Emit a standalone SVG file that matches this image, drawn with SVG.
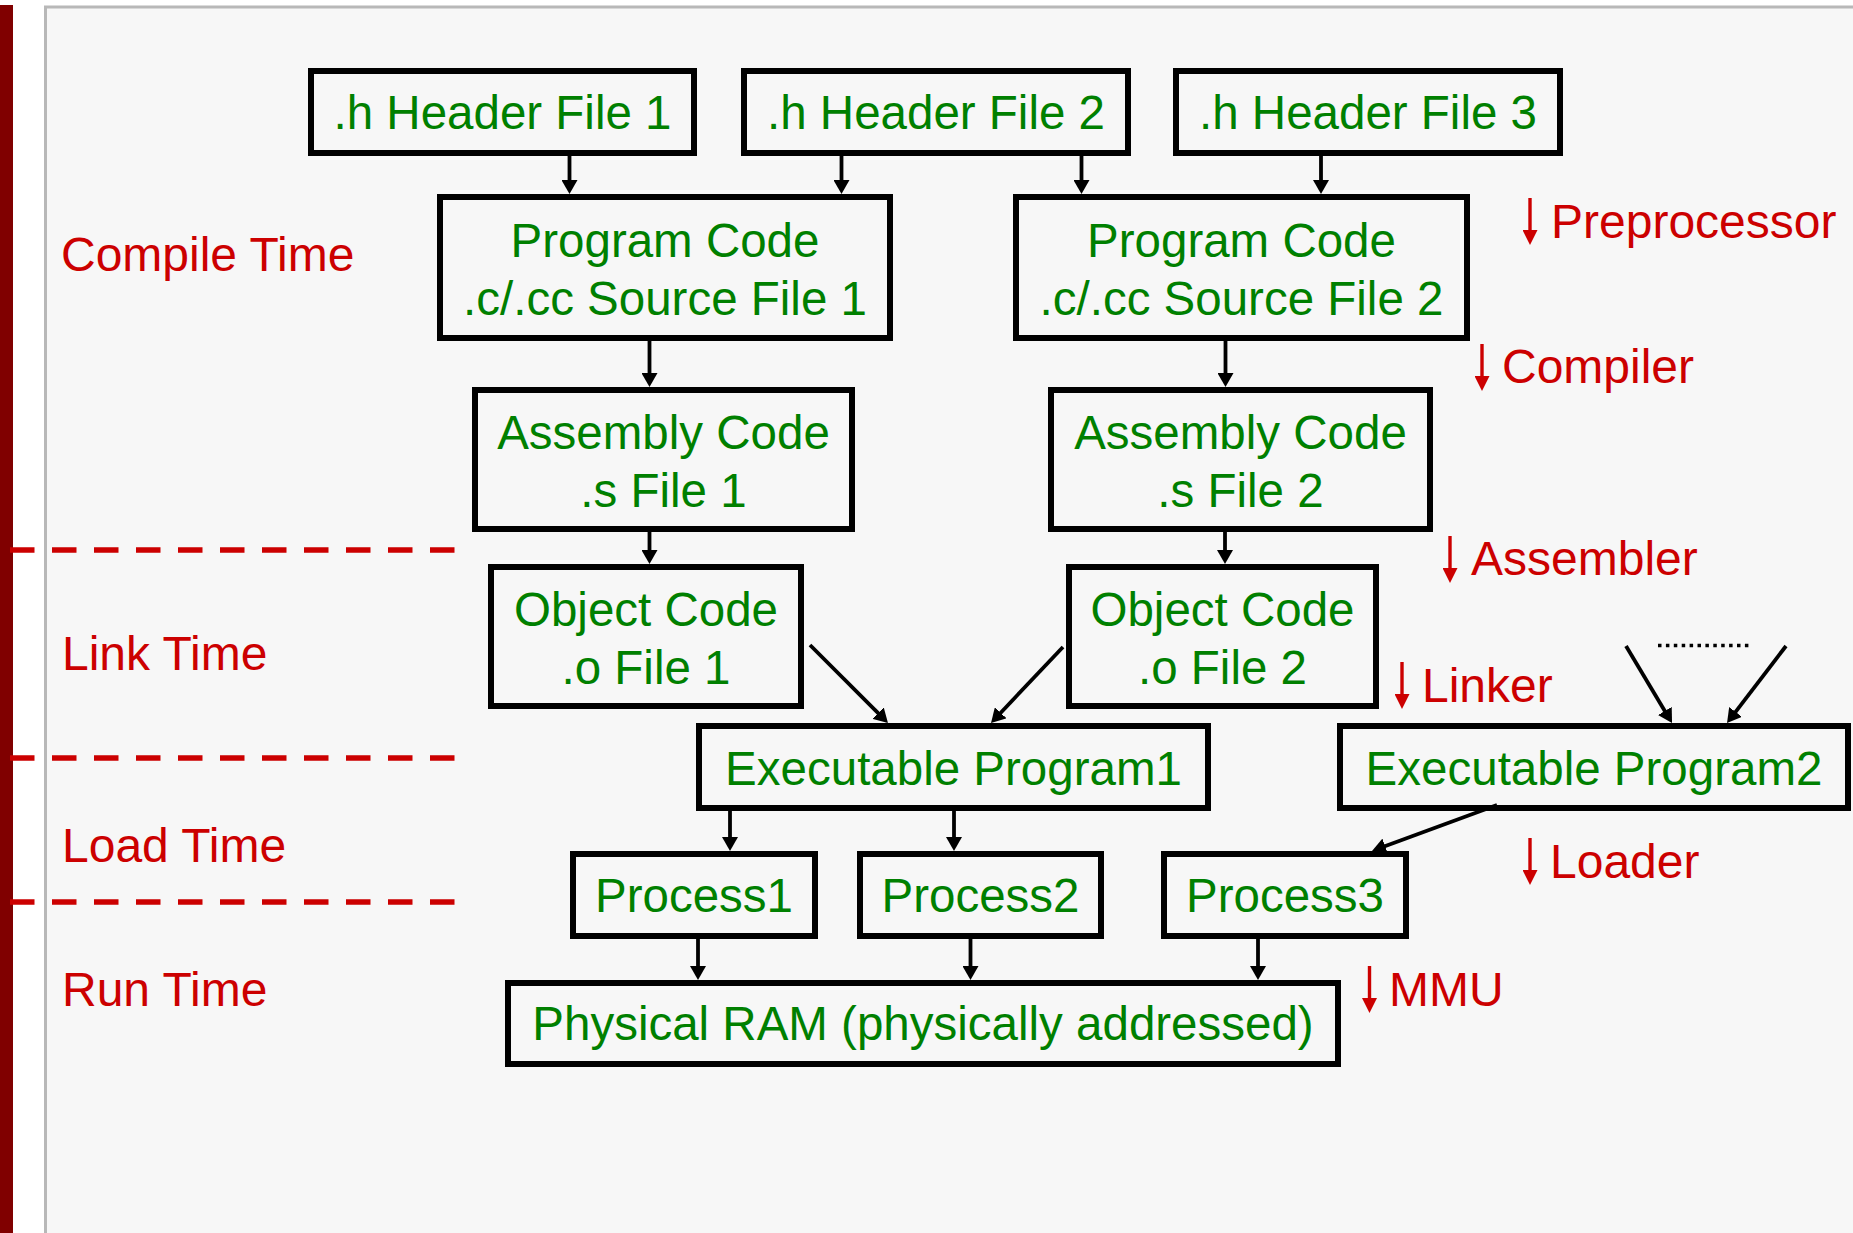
<svg xmlns="http://www.w3.org/2000/svg" width="1853" height="1233" viewBox="0 0 1853 1233">
  <style>
    .box { fill: none; stroke: #000; stroke-width: 6; }
    .node { font-family: "Liberation Sans", Arial, sans-serif; font-size: 47.5px; fill: #008000; text-anchor: middle; }
    .label { font-family: "Liberation Sans", Arial, sans-serif; font-size: 48px; fill: #cc0000; }
    .conn { stroke: #000; stroke-width: 3.8; fill: none; marker-end: url(#head); }
    .step { stroke: #cc0000; stroke-width: 3.4; fill: none; marker-end: url(#redhead); }
    .phase { stroke: #cc0000; stroke-width: 5.5; stroke-dasharray: 24.5 17.5; fill: none; }
  </style>
  <defs>
    <marker id="head" markerUnits="userSpaceOnUse" markerWidth="14" markerHeight="16" refX="4" refY="8" orient="auto">
      <path d="M0,0 L14,8 L0,16 z" fill="#000"/>
    </marker>
    <marker id="redhead" markerUnits="userSpaceOnUse" markerWidth="15" markerHeight="15" refX="5" refY="7.5" orient="auto">
      <path d="M0,0 L15,7.5 L0,15 z" fill="#cc0000"/>
    </marker>
  </defs>

  <!-- page and slide frame -->
  <rect x="0" y="0" width="1853" height="1233" fill="#ffffff"/>
  <rect x="45.5" y="7" width="1900" height="1300" fill="#f7f7f7" stroke="#b8b8b8" stroke-width="3"/>
  <rect x="0" y="5" width="13" height="1228" fill="#800000"/>

  <!-- phase separators -->
  <g id="phase-lines">
    <line class="phase" x1="10" y1="550" x2="455" y2="550"/>
    <line class="phase" x1="10" y1="758" x2="455" y2="758"/>
    <line class="phase" x1="10" y1="902" x2="455" y2="902"/>
  </g>

  <!-- phase names -->
  <g id="phase-labels">
    <text class="label" x="61" y="271">Compile Time</text>
    <text class="label" x="62" y="670">Link Time</text>
    <text class="label" x="62" y="862">Load Time</text>
    <text class="label" x="62" y="1006">Run Time</text>
  </g>

  <!-- tool steps -->
  <g id="tool-steps">
    <line class="step" x1="1530" y1="198" x2="1530" y2="235"/>
    <text class="label" x="1551" y="238">Preprocessor</text>
    <line class="step" x1="1482" y1="344" x2="1482" y2="381"/>
    <text class="label" x="1502" y="383">Compiler</text>
    <line class="step" x1="1450" y1="536" x2="1450" y2="573"/>
    <text class="label" x="1471" y="575">Assembler</text>
    <line class="step" x1="1402" y1="662" x2="1402" y2="699"/>
    <text class="label" x="1422" y="702">Linker</text>
    <line class="step" x1="1530" y1="838" x2="1530" y2="875"/>
    <text class="label" x="1550" y="878">Loader</text>
    <line class="step" x1="1369.5" y1="966" x2="1369.5" y2="1003"/>
    <text class="label" x="1389" y="1006">MMU</text>
  </g>

  <!-- nodes -->
  <g id="header1">
    <rect class="box" x="311" y="71" width="383" height="82"/>
    <text class="node" x="502.5" y="128.5">.h Header File 1</text>
  </g>
  <g id="header2">
    <rect class="box" x="744" y="71" width="384" height="82"/>
    <text class="node" x="936" y="128.5">.h Header File 2</text>
  </g>
  <g id="header3">
    <rect class="box" x="1176" y="71" width="384" height="82"/>
    <text class="node" x="1368" y="128.5">.h Header File 3</text>
  </g>
  <g id="source1">
    <rect class="box" x="440" y="197" width="450" height="141"/>
    <text class="node" x="665" y="257">Program Code</text>
    <text class="node" x="665" y="315">.c/.cc Source File 1</text>
  </g>
  <g id="source2">
    <rect class="box" x="1016" y="197" width="451" height="141"/>
    <text class="node" x="1241.5" y="257">Program Code</text>
    <text class="node" x="1241.5" y="315">.c/.cc Source File 2</text>
  </g>
  <g id="asm1">
    <rect class="box" x="475" y="390" width="377" height="139"/>
    <text class="node" x="663.5" y="449">Assembly Code</text>
    <text class="node" x="663.5" y="507">.s File 1</text>
  </g>
  <g id="asm2">
    <rect class="box" x="1051" y="390" width="379" height="139"/>
    <text class="node" x="1240.5" y="449">Assembly Code</text>
    <text class="node" x="1240.5" y="507">.s File 2</text>
  </g>
  <g id="obj1">
    <rect class="box" x="491" y="567" width="310" height="139"/>
    <text class="node" x="646" y="625.5">Object Code</text>
    <text class="node" x="646" y="683.5">.o File 1</text>
  </g>
  <g id="obj2">
    <rect class="box" x="1069" y="567" width="307" height="139"/>
    <text class="node" x="1222.5" y="625.5">Object Code</text>
    <text class="node" x="1222.5" y="683.5">.o File 2</text>
  </g>
  <g id="exe1">
    <rect class="box" x="699" y="726" width="509" height="82"/>
    <text class="node" x="953.5" y="784.5">Executable Program1</text>
  </g>
  <g id="exe2">
    <rect class="box" x="1340" y="726" width="508" height="82"/>
    <text class="node" x="1594" y="784.5">Executable Program2</text>
  </g>
  <g id="proc1">
    <rect class="box" x="573" y="854" width="242" height="82"/>
    <text class="node" x="694" y="912">Process1</text>
  </g>
  <g id="proc2">
    <rect class="box" x="860" y="854" width="241" height="82"/>
    <text class="node" x="980.5" y="912">Process2</text>
  </g>
  <g id="proc3">
    <rect class="box" x="1164" y="854" width="242" height="82"/>
    <text class="node" x="1285" y="912">Process3</text>
  </g>
  <g id="ram">
    <rect class="box" x="508" y="983" width="830" height="81"/>
    <text class="node" x="923" y="1040">Physical RAM (physically addressed)</text>
  </g>

  <!-- connectors -->
  <g id="connectors">
    <line class="conn" x1="569.5" y1="156" x2="569.5" y2="184"/>
    <line class="conn" x1="841.5" y1="156" x2="841.5" y2="184"/>
    <line class="conn" x1="1081.5" y1="156" x2="1081.5" y2="184"/>
    <line class="conn" x1="1321" y1="156" x2="1321" y2="184"/>
    <line class="conn" x1="649.5" y1="341" x2="649.5" y2="377"/>
    <line class="conn" x1="1225.5" y1="341" x2="1225.5" y2="377"/>
    <line class="conn" x1="649.5" y1="532" x2="649.5" y2="554"/>
    <line class="conn" x1="1225" y1="532" x2="1225" y2="554"/>
    <line class="conn" x1="810" y1="645" x2="880.9" y2="715.9"/>
    <line class="conn" x1="1063" y1="647" x2="997.9" y2="715.7"/>
    <line class="conn" x1="1626" y1="646" x2="1666.9" y2="714.4"/>
    <line class="conn" x1="1786" y1="646" x2="1733.1" y2="715.1"/>
    <line x1="1658" y1="645.5" x2="1751" y2="645.5" stroke="#000" stroke-width="3.4" stroke-dasharray="3.5 4.4"/>
    <line class="conn" x1="730" y1="811" x2="730" y2="841"/>
    <line class="conn" x1="954" y1="811" x2="954" y2="841"/>
    <line class="conn" x1="1497" y1="805" x2="1381.4" y2="847.5" stroke-width="4.5"/>
    <line class="conn" x1="698" y1="939" x2="698" y2="970"/>
    <line class="conn" x1="970.5" y1="939" x2="970.5" y2="970"/>
    <line class="conn" x1="1258" y1="939" x2="1258" y2="970"/>
  </g>
</svg>
